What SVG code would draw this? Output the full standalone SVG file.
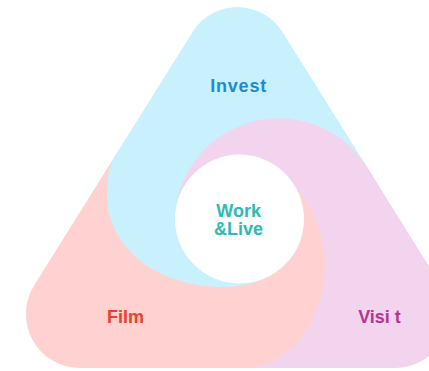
<svg xmlns="http://www.w3.org/2000/svg" width="429" height="371" viewBox="0 0 429 371">
  <defs>
    <style>
      .lbl { font-family: "Liberation Sans", Arial, sans-serif; font-weight: bold; font-size: 18px; text-anchor: middle; }
      .blue { fill: #c8f1fd; }
      .pink { fill: #ffd1d0; }
      .purple { fill: #f3d4ee; }
    </style>
  </defs>
  <rect width="429" height="371" fill="#ffffff"/>

  <g id="visit">
    <path class="purple" d="M 230 368 L 395.1 368 A 54 54 0 0 0 440.9 285.4 L 367 167 A 104 104 0 0 0 176.6 203.9 L 260 205 L 305 240 L 300 300 Z"/>
    <text class="lbl" x="379.5" y="323" fill="#b5358f">Visi t</text>
  </g>

  <g id="film">
    <path class="pink" d="M 79.9 368 A 54 54 0 0 1 34.1 285.4 L 120 148 L 200 215 L 280 190 L 300 192 C 312 209 325 237 325 263 C 325 320 292 368 240 368 Z"/>
    <text class="lbl" x="125.5" y="323" fill="#e8402d">Film</text>
  </g>

  <g id="invest">
    <path class="blue" d="M 192.6 31.9 A 53 53 0 0 1 282.4 31.9 L 372 175 L 300 185 L 290 200 L 276 272 C 262 282 244 287 224 287 C 156.5 287 107 247.4 107 195 C 107 183 108 167.2 114.4 157 Z"/>
    <text class="lbl" x="238.6" y="91.7" fill="#1c8bd3" letter-spacing="0.8">Invest</text>
  </g>

  <g id="visit-overlap">
    <path class="purple" d="M 367 167 A 104 104 0 0 0 176.6 203.9 L 240 212 L 300 189 L 330 192 L 378.75 186 Z"/>
  </g>

  <g id="work-live">
    <circle cx="239.5" cy="219" r="64.5" fill="#ffffff"/>
    <text class="lbl" x="238.7" y="216.7" fill="#2dbab3">Work</text>
    <text class="lbl" x="238.5" y="235" fill="#2dbab3">&amp;Live</text>
  </g>
</svg>
